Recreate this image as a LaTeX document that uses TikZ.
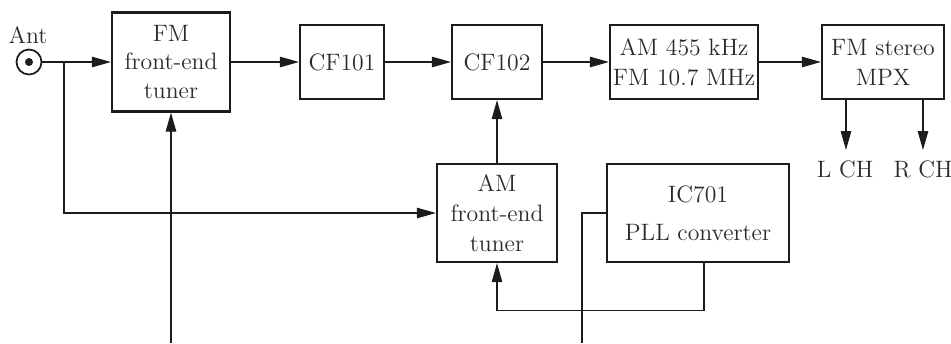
\documentclass[tikz,border=0pt]{standalone}
\usepackage{tikz}
\usetikzlibrary{arrows.meta}
\definecolor{wirec}{HTML}{1C1C1C}
\definecolor{textc}{HTML}{2A2A2A}
\tikzset{
  block/.style={draw=wirec, line width=1.3pt, align=center, inner sep=0pt, text=textc, font=\fontsize{13.5}{16}\selectfont},
  wire/.style={draw=wirec, line width=0.6pt},
  feed/.style={wire, -{Triangle[length=3.8mm,width=2.1mm]}},
  lbl/.style={text=textc, inner sep=0pt, font=\fontsize{13.5}{16}\selectfont},
}

\begin{document}
\begin{tikzpicture}[x=0.02cm,y=-0.02cm]
\useasboundingbox (0,0) rectangle (951,343);
% antenna input
\node[lbl] (antlbl) at (28,35) {Ant};
\node[draw=wirec, line width=1pt, circle, minimum size=0.5cm, inner sep=0pt] (ant) at (29,62) {};
\fill[wirec] (ant) circle (0.08cm);
\coordinate (split) at (64,62);
% blocks
\node[block, minimum width=2.36cm, minimum height=1.98cm] (fmfe) at (171,62) {FM\\front-end\\tuner};
\node[block, minimum width=1.68cm, minimum height=1.48cm] (cfa) at (342,62) {CF101};
\node[block, minimum width=1.80cm, minimum height=1.48cm] (cfb) at (497,62) {CF102};
\node[block, minimum width=2.96cm, minimum height=1.48cm] (ifamp) at (684,62) {AM 455 kHz\\[1pt]FM 10.7 MHz};
\node[block, minimum width=2.44cm, minimum height=1.48cm] (mpx) at (883,62) {FM stereo\\[1pt]MPX};
\node[block, minimum width=2.40cm, minimum height=1.96cm] (amfe) at (497,213) {AM\\[1pt]front-end\\[1pt]tuner};
\node[block, minimum width=3.64cm, minimum height=1.96cm] (pll) at (698,213) {IC701\\[5.5pt]PLL converter};
% free ends
\coordinate (tunein) at (171,343);
\coordinate (pllin) at (582,343);
\coordinate (lch) at (846,150);
\coordinate (rch) at (923,150);
\node[lbl] (lchl) at (845,169) {L CH};
\node[lbl] (rchl) at (923,169) {R CH};
% signal path
\draw[feed] (ant) -- (fmfe);
\draw[feed] (fmfe) -- (cfa);
\draw[feed] (cfa) -- (cfb);
\draw[feed] (cfb) -- (ifamp);
\draw[feed] (ifamp) -- (mpx);
\draw[feed] (split) |- (amfe);
\draw[feed] (amfe) -- (cfb);
\draw[feed] ([xshift=0.12cm]pll.south) -- ++(0,47) -| (amfe.south);
\draw[feed] (tunein) -- (fmfe.south);
\draw[wire] (pllin) |- (pll.west);
\draw[feed] (mpx.south -| lch) -- (lch);
\draw[feed] (mpx.south -| rch) -- (rch);
\end{tikzpicture}
\end{document}
